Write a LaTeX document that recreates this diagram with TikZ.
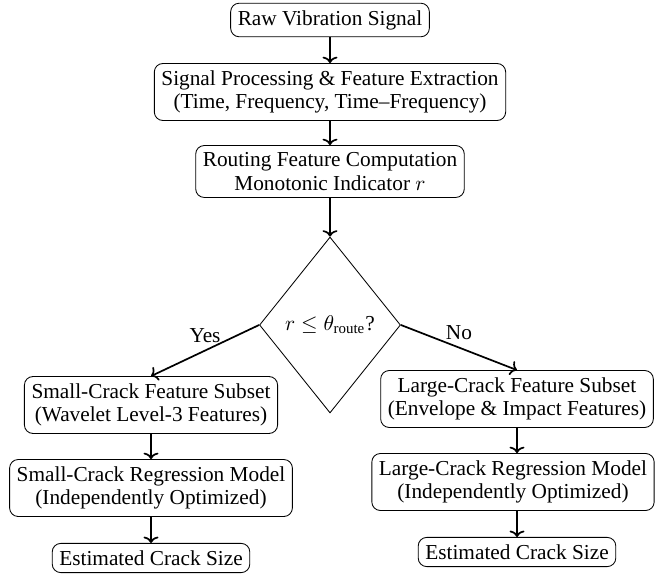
\documentclass[tikz,border=0pt]{standalone}
\usepackage{amsmath}
\usepackage{fontspec}
\setmainfont{Liberation Serif}
\usetikzlibrary{shapes.geometric,arrows.meta}
\begin{document}
\begin{tikzpicture}[x=0.4695pt,y=-0.4695pt,
  txt/.style={font=\fontsize{10}{11}\selectfont},
  box/.style={txt, draw, rounded corners=4pt, align=center, inner sep=3.33pt},
  decision/.style={txt, draw, diamond, inner sep=0pt, minimum width=66.2pt, minimum height=82.6pt},
  flow/.style={-{To[length=3pt,width=7pt]}, thick}]
\useasboundingbox (0,0) rectangle (655,575);
\node[box] (raw) at (330,20) {Raw Vibration Signal};
\node[box] (sig) at (330,92) {Signal Processing \& Feature Extraction\\(Time, Frequency, Time--Frequency)};
\node[box] (rout) at (330,171.5) {Routing Feature Computation\\Monotonic Indicator $r$};
\node[decision] (dia) at (330,325) {$r \leq \theta_{\text{route}}$?};
\node[box] (ls) at (151,405) {Small-Crack Feature Subset\\(Wavelet Level-3 Features)};
\node[box] (lm) at (151,488) {Small-Crack Regression Model\\(Independently Optimized)};
\node[box] (le) at (151,558) {Estimated Crack Size};
\node[box] (rs) at (517,399) {Large-Crack Feature Subset\\(Envelope \& Impact Features)};
\node[box] (rm) at (513,482) {Large-Crack Regression Model\\(Independently Optimized)};
\node[box] (re) at (517,552) {Estimated Crack Size};
\draw[flow] (raw) -- (sig);
\draw[flow] (sig) -- (rout);
\draw[flow] (rout) -- (dia);
\draw[flow] (dia.west) -- node[txt, midway, above] {Yes} (ls.north);
\draw[flow] (dia.east) -- node[txt, midway, above] {No} (rs.north);
\draw[flow] (ls) -- (lm);
\draw[flow] (lm) -- (le);
\draw[flow] (rs) -- (rs |- rm.north);
\draw[flow] (rs |- rm.south) -- (rs |- re.north);
\end{tikzpicture}
\end{document}
